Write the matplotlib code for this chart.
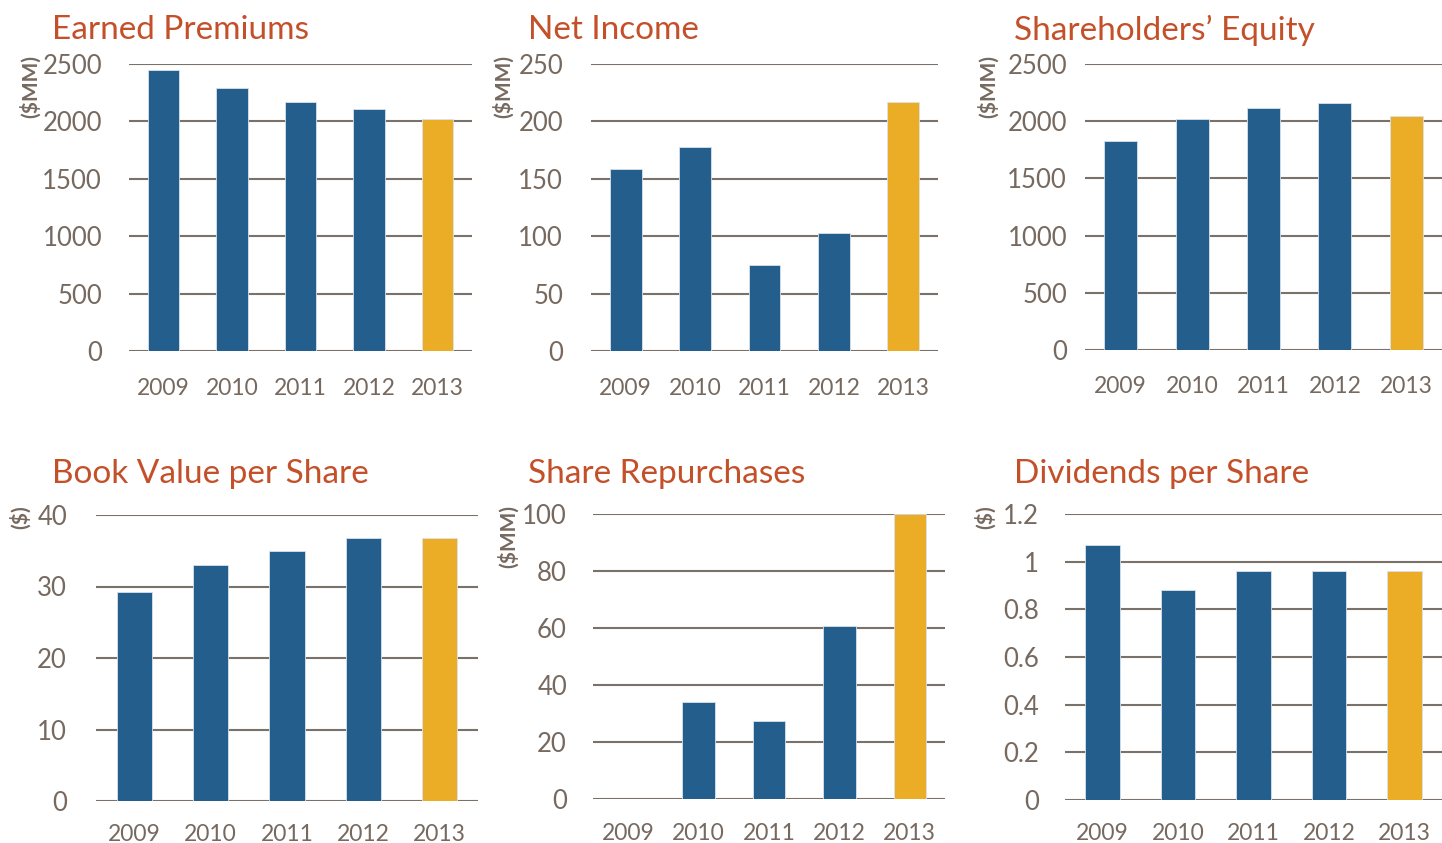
import matplotlib.pyplot as plt

plt.rcParams['font.family'] = ['Lato', 'DejaVu Sans']

years = ['2009', '2010', '2011', '2012', '2013']

earned_premiums = [2450, 2287, 2171, 2107, 2023]
net_income = [158.5, 177.7, 74.9, 102.8, 216.9]
shareholders_equity = [1827, 2019, 2115, 2159, 2045]
book_value = [29.2, 33.0, 35.0, 36.8, 36.8]
repurchases = [0, 34.2, 27.3, 60.6, 100]
dividends = [1.07, 0.88, 0.96, 0.96, 0.96]

blue = '#245E8C'
gold = '#EBAC26'
title_col = '#C4502A'
grey = '#76695F'
grid_col = '#7A7169'

W, H = 1442, 843
fig = plt.figure(figsize=(W / 100, H / 100), dpi=100)

# (title, unit, values, ymax, step, tick labels, axes box px, title pos, unit pos, ypad px, xpad px)
panels = [
    ('Earned Premiums', '($MM)', earned_premiums, 2500, 500, None,
     (129, 64, 472, 351), (52, 30), (30, 55), 27, 27),
    ('Net Income', '($MM)', net_income, 250, 50, None,
     (591, 64, 938, 351), (528, 30), (503, 55), 28, 27),
    ('Shareholders\u2019 Equity', '($MM)', shareholders_equity, 2500, 500, None,
     (1085, 64, 1442, 350), (1014, 30), (988, 55), 18, 26),
    ('Book Value per Share', '($)', book_value, 40, 10, None,
     (96, 515, 478, 801), (52, 474), (20, 505), 29, 23),
    ('Share Repurchases', '($MM)', repurchases, 100, 20, None,
     (593, 514, 945, 799), (528, 474), (508, 505), 26, 24),
    ('Dividends per Share', '($)', dividends, 1.2, 0.2,
     ['0', '0.2', '0.4', '0.6', '0.8', '1', '1.2'],
     (1065, 514, 1442, 800), (1014, 474), (985, 505), 26, 23),
]

for title, unit, vals, ymax, step, labels, box, tpos, upos, ypad, xpad in panels:
    x0, y0, x1, y1 = box
    ax = fig.add_axes([x0 / W, 1 - y1 / H, (x1 - x0) / W, (y1 - y0) / H])
    colors = [blue] * 4 + [gold]
    ax.bar(range(5), vals, width=0.46, color=colors, edgecolor='#D8E2EC',
           linewidth=0.6, zorder=3)
    ax.set_xlim(-0.5, 4.5)
    ax.set_ylim(0, ymax)
    n = int(round(ymax / step))
    ticks = [i * step for i in range(n + 1)]
    ax.set_yticks(ticks)
    if labels is None:
        labels = [str(int(t)) if float(t).is_integer() else str(t) for t in ticks]
    ax.set_yticklabels(labels)
    ax.set_xticks(range(5))
    ax.set_xticklabels(years)
    ax.grid(axis='y', color=grid_col, linewidth=1.5, zorder=0)
    for s in ax.spines.values():
        s.set_visible(False)
    ax.tick_params(axis='both', length=0, colors=grey)
    ax.tick_params(axis='y', labelsize=18.5, pad=ypad * 0.72)
    ax.tick_params(axis='x', labelsize=16.5, pad=xpad * 0.72)
    fig.text(tpos[0] / W, 1 - tpos[1] / H, title, color=title_col,
             fontsize=24, ha='left', va='center')
    fig.text(upos[0] / W, 1 - upos[1] / H, unit, color=grey, fontsize=15,
             fontweight='bold', rotation=90, ha='center', va='top')

fig.savefig('out.png', dpi=100)
